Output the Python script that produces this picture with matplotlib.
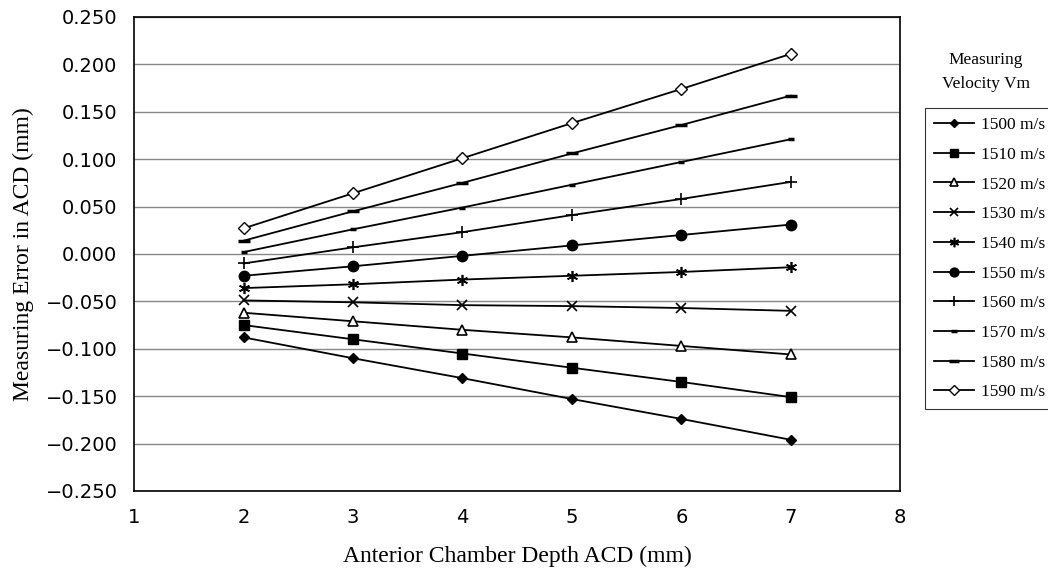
import matplotlib.pyplot as plt
from matplotlib.lines import Line2D

acd = [2, 3, 4, 5, 6, 7]

err_1500 = [-0.088, -0.110, -0.131, -0.153, -0.174, -0.196]
err_1510 = [-0.075, -0.090, -0.105, -0.120, -0.135, -0.151]
err_1520 = [-0.062, -0.071, -0.080, -0.088, -0.097, -0.106]
err_1530 = [-0.049, -0.051, -0.054, -0.055, -0.057, -0.060]
err_1540 = [-0.036, -0.032, -0.027, -0.023, -0.019, -0.014]
err_1550 = [-0.023, -0.013, -0.002, 0.009, 0.020, 0.031]
err_1560 = [-0.010, 0.007, 0.023, 0.041, 0.058, 0.076]
err_1570 = [0.002, 0.026, 0.049, 0.073, 0.097, 0.121]
err_1580 = [0.014, 0.045, 0.075, 0.106, 0.136, 0.167]
err_1590 = [0.027, 0.064, 0.101, 0.138, 0.174, 0.211]

labels = ["1500 m/s", "1510 m/s", "1520 m/s", "1530 m/s", "1540 m/s",
          "1550 m/s", "1560 m/s", "1570 m/s", "1580 m/s", "1590 m/s"]
series = [err_1500, err_1510, err_1520, err_1530, err_1540,
          err_1550, err_1560, err_1570, err_1580, err_1590]

y_ticks = [-0.25, -0.2, -0.15, -0.1, -0.05, 0.0, 0.05, 0.1, 0.15, 0.2, 0.25]

# marker style per series: (marker, size, filled, edge width)
styles = [
    ("D", 5, True, 1.0),
    ("s", 6.5, True, 1.0),
    ("^", 6.5, False, 1.2),
    ("x", 7, True, 1.2),
    ((6, 2, 0), 8, True, 1.2),
    ("o", 7.5, True, 1.0),
    ("+", 9, True, 1.2),
    ("_", 5, True, 2.5),
    ("_", 9, True, 2.5),
    ("D", 6, False, 1.0),
]

fig = plt.figure(figsize=(10.48, 5.76), dpi=100)
ax = fig.add_axes([0.128, 0.1476, 0.731, 0.823])

handles = []
for vals, lab, (m, ms, filled, mew) in zip(series, labels, styles):
    fc = "black" if filled else "white"
    ax.plot(acd, vals, color="black", lw=1.3, marker=m, markersize=ms,
            markerfacecolor=fc, markeredgecolor="black", markeredgewidth=mew,
            zorder=3)
    handles.append(Line2D([], [], color="black", lw=1.3, marker=m, markersize=ms * 0.85,
                          markerfacecolor=fc, markeredgecolor="black",
                          markeredgewidth=mew, label=lab))

ax.set_xlim(1, 8)
ax.set_ylim(-0.25, 0.25)
ax.set_xticks(range(1, 9))
ax.set_yticks(y_ticks)
ax.set_yticklabels([("%.3f" % abs(v)) if v >= 0 else "\u2212%.3f" % abs(v) for v in y_ticks])
ax.yaxis.grid(True, color="#888888", lw=1.0)
ax.set_axisbelow(True)
ax.tick_params(length=0, labelsize=14)
ax.tick_params(axis="y", pad=12)
ax.tick_params(axis="x", pad=12)
for t in ax.get_xticklabels() + ax.get_yticklabels():
    t.set_fontfamily("DejaVu Sans")
for sp in ax.spines.values():
    sp.set_linewidth(1.2)

ax.set_xlabel("Anterior Chamber Depth ACD (mm)", fontfamily="Liberation Serif",
              fontsize=17, labelpad=14)
ax.set_ylabel("Measuring Error in ACD (mm)", fontfamily="Liberation Serif",
              fontsize=17, labelpad=8)

fig.text(0.941, 0.875, "Measuring\nVelocity Vm", ha="center", va="center",
         fontfamily="Liberation Serif", fontsize=12.5, linespacing=1.7)

leg = fig.legend(handles=handles, loc="upper left", bbox_to_anchor=(0.883, 0.812),
                 frameon=True, fancybox=False, edgecolor="black",
                 prop={"family": "Liberation Serif", "size": 12.5},
                 handlelength=2.3, handletextpad=0.4, labelspacing=0.78,
                 borderpad=0.5, borderaxespad=0)
leg.get_frame().set_linewidth(0.8)

fig.savefig("out.png", dpi=100)
